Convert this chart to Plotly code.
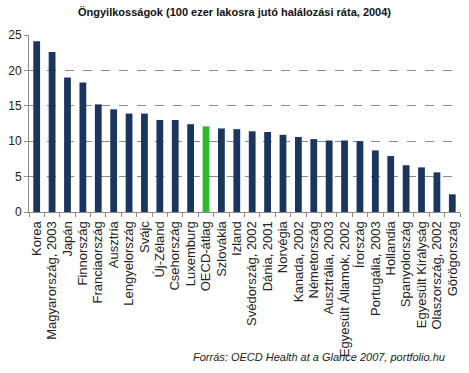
import plotly.graph_objects as go

categories = ["Korea", "Magyarország, 2003", "Japán", "Finnország", "Franciaország", "Ausztria",
              "Lengyelország", "Svájc", "Új-Zéland", "Csehország", "Luxemburg", "OECD-átlag",
              "Szlovákia", "Izland", "Svédország, 2002", "Dánia, 2001", "Norvégia", "Kanada, 2002",
              "Németország", "Ausztrália, 2003", "Egyesült Államok, 2002", "Írország",
              "Portugália, 2003", "Hollandia", "Spanyolország", "Egyesült Királyság",
              "Olaszország, 2002", "Görögország"]
values = [24.1, 22.6, 19.0, 18.3, 15.2, 14.5, 13.9, 13.9, 13.0, 13.0, 12.4, 12.1, 11.8, 11.7,
          11.4, 11.3, 10.9, 10.6, 10.3, 10.1, 10.1, 10.0, 8.7, 7.9, 6.6, 6.3, 5.6, 2.5]
y_ticks = [0, 5, 10, 15, 20, 25]

NAVY = "#1A355E"
GREEN = "#2DB82D"
colors = [GREEN if c == "OECD-átlag" else NAVY for c in categories]

fig = go.Figure(go.Bar(x=categories, y=values, marker_color=colors, marker_line_width=0, width=0.44))

fig.update_layout(
    width=469, height=373,
    margin=dict(l=29, r=9, t=35, b=161, autoexpand=False),
    paper_bgcolor="white", plot_bgcolor="white",
    font=dict(family="Arial, Liberation Sans, sans-serif", size=11, color="#222222"),
    title=dict(text="<b>Öngyilkosságok (100 ezer lakosra jutó halálozási ráta, 2004)</b>",
               x=0.5, xanchor="center", y=0.968, yanchor="middle",
               font=dict(size=11, color="#111111")),
    showlegend=False,
    bargap=0.5,
)
fig.update_yaxes(range=[0, 25], tickvals=y_ticks, showgrid=True, gridcolor="#8a8a8a",
                 griddash="dash", gridwidth=1, showline=True, linecolor="#8a8a8a",
                 ticks="outside", ticklen=4, tickcolor="#8a8a8a", zeroline=False,
                 automargin=False, tickfont=dict(size=12, color="#222222"))
fig.update_xaxes(tickangle=-90, showline=True, linecolor="#8a8a8a", ticks="outside",
                 tickmode="linear", dtick=1, tick0=0, ticklabelstandoff=3,
                 tickson="boundaries", ticklen=4, tickcolor="#8a8a8a", automargin=False,
                 tickfont=dict(family="Liberation Sans, Arial, sans-serif", size=13, color="#222222"))

fig.add_annotation(text="<i>Forrás: OECD Health at a Glance 2007, portfolio.hu</i>",
                   xref="paper", yref="paper", x=0.97, y=0, yshift=-145,
                   xanchor="right", yanchor="middle",
                   showarrow=False, font=dict(size=11, color="#222222"))

fig.write_html("out.html", config={"displayModeBar": False},
               post_script="document.body.style.margin='0';document.body.style.overflow='hidden';")
